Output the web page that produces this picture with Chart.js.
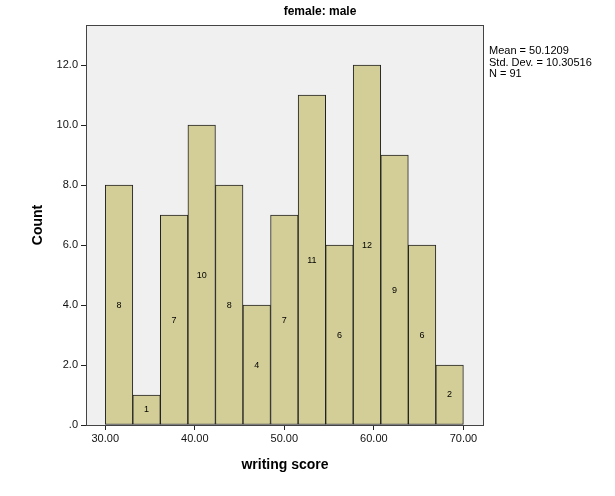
<!DOCTYPE html>
<html>
<head>
<meta charset="utf-8">
<script src="https://cdn.jsdelivr.net/npm/chart.js@4/dist/chart.umd.min.js"></script>
<style>
  html, body { margin: 0; padding: 0; background: #fff; }
  #wrap { width: 615px; height: 496px; }
</style>
</head>
<body>
<div id="wrap"><canvas id="hist" width="615" height="496"></canvas></div>
<script>
// histogram bins (edges) and counts
const binEdges = [30, 33.08, 36.15, 39.23, 42.31, 45.38, 48.46, 51.54, 54.62, 57.69, 60.77, 63.85, 66.92, 70];
const counts = [8, 1, 7, 10, 8, 4, 7, 11, 6, 12, 9, 6, 2];

const xTicks = [30, 40, 50, 60, 70];
const xTickLabels = ['30.00', '40.00', '50.00', '60.00', '70.00'];
const yTicks = [0, 2, 4, 6, 8, 10, 12];
const yTickLabels = ['.0', '2.0', '4.0', '6.0', '8.0', '10.0', '12.0'];

const statsLines = ['Mean = 50.1209', 'Std. Dev. = 10.30516', 'N = 91'];
const chartTitle = 'female: male';
const xTitle = 'writing score';
const yTitle = 'Count';

const points = counts.map((c, i) => ({ x: (binEdges[i] + binEdges[i + 1]) / 2, y: c }));

const FONT = "'Liberation Sans', Arial, sans-serif";

// grey plot background, frame, bar labels and the texts around the plot
const spssDecor = {
    id: 'spssDecor',
    beforeDraw(chart) {
        const { ctx, chartArea: a } = chart;
        ctx.save();
        ctx.fillStyle = '#f0f0f0';
        ctx.fillRect(a.left, a.top, a.right - a.left, a.bottom - a.top);
        ctx.restore();
    },
    afterDatasetsDraw(chart) {
        const { ctx, chartArea: a } = chart;
        const xs = chart.scales.x, ys = chart.scales.y;
        ctx.save();
        ctx.strokeStyle = '#444';
        ctx.lineWidth = 1;
        ctx.strokeRect(a.left + 0.5, a.top + 0.5, a.right - a.left - 1, a.bottom - a.top);

        // count inside each bar, at half height
        ctx.fillStyle = '#000';
        ctx.font = '9px ' + FONT;
        ctx.textAlign = 'center';
        ctx.textBaseline = 'middle';
        points.forEach(p => {
            ctx.fillText(String(p.y), xs.getPixelForValue(p.x), ys.getPixelForValue(p.y / 2));
        });

        // title
        ctx.font = 'bold 12px ' + FONT;
        ctx.fillText(chartTitle, 320, 12);

        // axis titles
        ctx.font = 'bold 14px ' + FONT;
        ctx.fillText(xTitle, (a.left + a.right) / 2, 465);
        ctx.save();
        ctx.translate(38, 225);
        ctx.rotate(-Math.PI / 2);
        ctx.fillText(yTitle, 0, 0);
        ctx.restore();

        // stats box text
        ctx.font = "11px 'Liberation Sans Narrow', " + FONT;
        ctx.textAlign = 'left';
        statsLines.forEach((s, i) => ctx.fillText(s, 489, 51 + i * 11.5));
        ctx.restore();
    }
};

new Chart(document.getElementById('hist'), {
    type: 'bar',
    data: {
        datasets: [{
            data: points,
            backgroundColor: '#d3ce97',
            borderColor: '#222',
            borderWidth: 1,
            borderSkipped: false,
            barPercentage: 1,
            categoryPercentage: 1,
            grouped: false
        }]
    },
    options: {
        responsive: false,
        animation: false,
        layout: { padding: { left: 0, right: 131, top: 25, bottom: 0 } },
        plugins: {
            legend: { display: false },
            tooltip: { enabled: false }
        },
        scales: {
            x: {
                type: 'linear',
                min: 27.85,
                max: 72.3,
                offset: false,
                afterFit: s => { s.height = 71; },
                afterBuildTicks: s => { s.ticks = xTicks.map(v => ({ value: v })); },
                grid: { offset: false, drawOnChartArea: false, tickLength: 5, color: '#222' },
                border: { display: false },
                ticks: {
                    padding: 2,
                    color: '#111',
                    font: { family: FONT, size: 11 },
                    maxRotation: 0,
                    callback: v => xTickLabels[xTicks.indexOf(v)]
                }
            },
            y: {
                min: 0,
                max: 13.34,
                afterFit: s => { s.width = 86; },
                afterBuildTicks: s => { s.ticks = yTicks.map(v => ({ value: v })); },
                grid: { drawOnChartArea: false, tickLength: 5, color: '#222' },
                border: { display: false },
                ticks: {
                    padding: 3,
                    color: '#111',
                    font: { family: FONT, size: 11 },
                    callback: v => yTickLabels[yTicks.indexOf(v)]
                }
            }
        }
    },
    plugins: [spssDecor]
});
</script>
</body>
</html>
